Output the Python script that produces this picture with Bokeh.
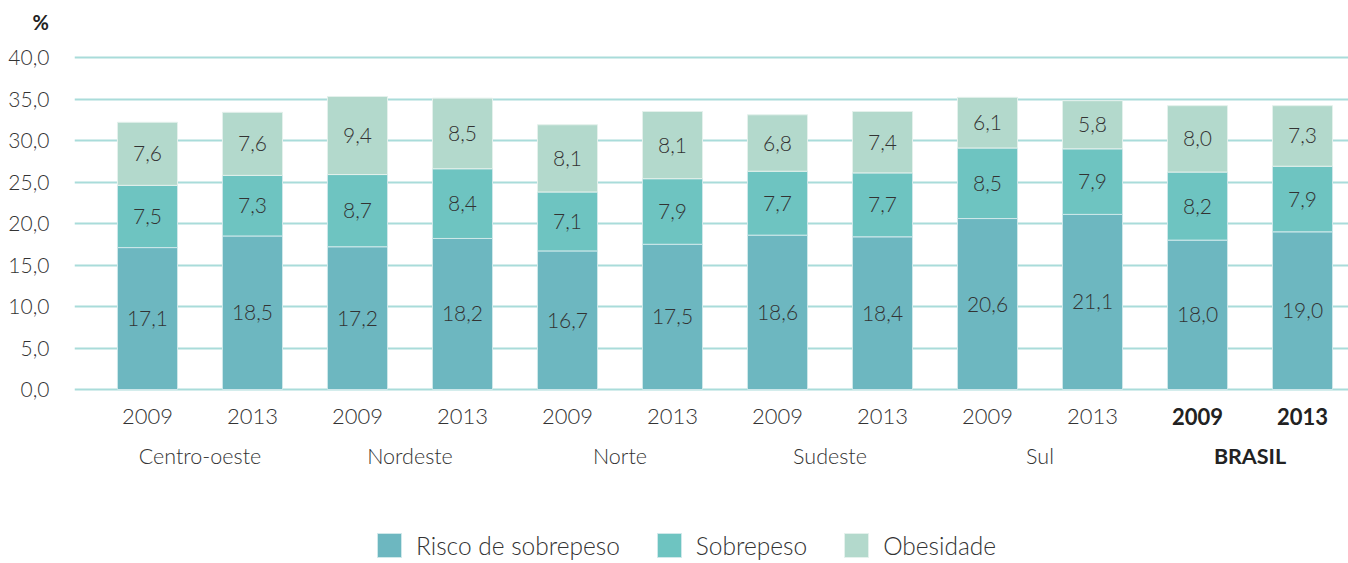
from bokeh.plotting import figure
from bokeh.models import (ColumnDataSource, Range1d, FixedTicker, LabelSet, Label,
                          Legend, LegendItem, Title)
from bokeh.core.properties import value
from bokeh.embed import file_html
from bokeh.resources import INLINE

regions = ["Centro-oeste", "Nordeste", "Norte", "Sudeste", "Sul", "BRASIL"]
years = ["2009", "2013"]
risco = [17.1, 18.5, 17.2, 18.2, 16.7, 17.5, 18.6, 18.4, 20.6, 21.1, 18.0, 19.0]
sobrepeso = [7.5, 7.3, 8.7, 8.4, 7.1, 7.9, 7.7, 7.7, 8.5, 7.9, 8.2, 7.9]
obesidade = [7.6, 7.6, 9.4, 8.5, 8.1, 8.1, 6.8, 7.4, 6.1, 5.8, 8.0, 7.3]
series_names = ["Risco de sobrepeso", "Sobrepeso", "Obesidade"]
colors = ["#6db7c0", "#6ec4c1", "#b3d9cc"]
y_ticks = [0, 5, 10, 15, 20, 25, 30, 35, 40]

FONT = "Lato Light, Lato"
TXT = "#333333"

n = len(risco)
xs = list(range(n))
year_lab = [years[i % 2] for i in xs]
bold_mask = [i >= 10 for i in xs]

def fmt(v):
    return f"{v:.1f}".replace(".", ",")

b1 = [0.0] * n
t1 = [risco[i] for i in xs]
b2 = t1
t2 = [t1[i] + sobrepeso[i] for i in xs]
b3 = t2
t3 = [t2[i] + obesidade[i] for i in xs]

src = ColumnDataSource(dict(
    x=xs, b1=b1, t1=t1, b2=b2, t2=t2, b3=b3, t3=t3,
    m1=[(b1[i] + t1[i]) / 2 for i in xs],
    m2=[(b2[i] + t2[i]) / 2 for i in xs],
    m3=[(b3[i] + t3[i]) / 2 for i in xs],
    l1=[fmt(v) for v in risco], l2=[fmt(v) for v in sobrepeso], l3=[fmt(v) for v in obesidade],
))

p = figure(width=1348, height=563, output_backend="svg", toolbar_location=None,
           x_range=Range1d(-0.695, 11.438), y_range=Range1d(-20.96, 42.05),
           min_border_left=74, min_border_right=0, min_border_top=40, min_border_bottom=0)
p.title = Title(text="%", align="left", offset=-42, text_font="Lato", text_font_style="bold",
                text_font_size="20px", text_color="#222222", vertical_align="top")
p.outline_line_color = None
p.xaxis.visible = False
p.xgrid.visible = False
p.ygrid.ticker = FixedTicker(ticks=y_ticks)
p.ygrid.grid_line_color = "#a9dcda"
p.ygrid.grid_line_width = 2

ya = p.yaxis[0]
ya.ticker = FixedTicker(ticks=y_ticks)
ya.major_label_overrides = {t: fmt(t) for t in y_ticks}
ya.axis_line_color = None
ya.major_tick_line_color = None
ya.minor_tick_line_color = None
ya.major_label_standoff = 19
ya.major_label_text_font = FONT
ya.major_label_text_font_size = "21px"
ya.major_label_text_color = TXT

w = 0.572
r1 = p.vbar(x="x", bottom="b1", top="t1", width=w, source=src, fill_color=colors[0],
            line_color="#cfe8ea", line_width=1)
r2 = p.vbar(x="x", bottom="b2", top="t2", width=w, source=src, fill_color=colors[1],
            line_color="#cfe8ea", line_width=1)
r3 = p.vbar(x="x", bottom="b3", top="t3", width=w, source=src, fill_color=colors[2],
            line_color="#e4f1ec", line_width=1)

for m, l in (("m1", "l1"), ("m2", "l2"), ("m3", "l3")):
    p.add_layout(LabelSet(x="x", y=m, text=l, source=src, text_align="center",
                          text_baseline="middle", text_font=value(FONT),
                          text_font_size="21px", text_color=TXT))

# year labels
norm = ColumnDataSource(dict(x=[i for i in xs if not bold_mask[i]],
                             y=[-3.25] * sum(1 for b in bold_mask if not b),
                             t=[year_lab[i] for i in xs if not bold_mask[i]]))
bold = ColumnDataSource(dict(x=[i for i in xs if bold_mask[i]],
                             y=[-3.25] * sum(1 for b in bold_mask if b),
                             t=[year_lab[i] for i in xs if bold_mask[i]]))
p.add_layout(LabelSet(x="x", y="y", text="t", source=norm, text_align="center",
                      text_baseline="middle", text_font=value(FONT),
                      text_font_size="22px", text_color=TXT))
p.add_layout(LabelSet(x="x", y="y", text="t", source=bold, text_align="center",
                      text_baseline="middle", text_font=value("Lato"), text_font_style="bold",
                      text_font_size="22px", text_color="#222222"))

# region labels
for k, reg in enumerate(regions):
    isb = reg == "BRASIL"
    p.add_layout(Label(x=2 * k + 0.5, y=-7.95, text=reg, text_align="center",
                       text_baseline="middle", text_font="Lato" if isb else FONT,
                       text_font_size="21.5px",
                       text_color="#222222" if isb else TXT,
                       text_font_style="bold" if isb else "normal"))

legend = Legend(items=[LegendItem(label=series_names[0], renderers=[r1]),
                       LegendItem(label=series_names[1], renderers=[r2]),
                       LegendItem(label=series_names[2], renderers=[r3])],
                orientation="horizontal", location=(300, 3),
                glyph_width=30, glyph_height=30, label_standoff=12, spacing=34,
                padding=0, margin=0, border_line_alpha=0, background_fill_alpha=0,
                label_text_font=FONT, label_text_font_size="24.5px", label_text_color=TXT)
p.add_layout(legend, "center")

open("out.html", "w").write(file_html(p, INLINE))
